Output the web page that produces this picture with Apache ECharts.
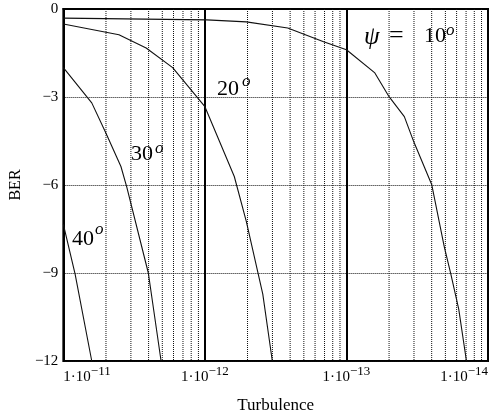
<!DOCTYPE html>
<html>
<head>
<meta charset="utf-8">
<script src="https://cdn.jsdelivr.net/npm/echarts@6/dist/echarts.min.js"></script>
<style>
html, body { margin: 0; padding: 0; background: #fff; }
#ber-chart { width: 494px; height: 419px; }
</style>
</head>
<body>
<div id="ber-chart"></div>
<script>
// turbulence values (x) and BER exponent (y)
var turb10 = [1e-11, 9.7e-13, 5.1e-13, 2.6e-13, 1.45e-13, 1e-13, 6.3e-14, 5.0e-14, 3.9e-14, 3.35e-14, 2.5e-14, 2.04e-14, 1.83e-14, 1.61e-14, 1.42e-14];
var ber10 = [-0.31, -0.37, -0.44, -0.65, -1.12, -1.39, -2.18, -2.99, -3.67, -4.52, -5.98, -8.09, -9.04, -10.23, -12];

var turb20 = [1e-11, 4.05e-12, 2.6e-12, 1.69e-12, 1e-12, 6.2e-13, 5.1e-13, 3.9e-13, 3.34e-13];
var ber20 = [-0.51, -0.88, -1.33, -2.0, -3.33, -5.71, -7.24, -9.72, -12];

var turb30 = [1e-11, 6.3e-12, 4.98e-12, 3.92e-12, 3.56e-12, 2.51e-12, 2.04e-12];
var ber30 = [-2.0, -3.2, -4.25, -5.37, -6.08, -9.0, -12];

var turb40 = [1e-11, 8.26e-12, 6.3e-12];
var ber40 = [-7.34, -9.04, -12];

var decades = [11, 12, 13];          // 1e-11 .. 1e-14 on the axis
var divisors = [2, 3, 4, 5, 6, 7, 8, 9]; // minor grid at 10^-k / n
var berTicks = [0, -3, -6, -9, -12];

var serif = '"Liberation Serif", "DejaVu Serif", serif';

function pairs(xs, ys) {
    return xs.map(function (x, i) { return [x, ys[i]]; });
}

var series = [];

// dotted minor grid, one short line series per position
decades.forEach(function (k) {
    divisors.forEach(function (n) {
        var v = Math.pow(10, -k) / n;
        series.push({
            type: 'line',
            data: [[v, berTicks[0]], [v, berTicks[berTicks.length - 1]]],
            symbol: 'none',
            silent: true,
            z: 1,
            lineStyle: { type: 'dotted', color: '#111', width: 1 }
        });
    });
});

function curve(name, xs, ys) {
    return {
        name: name,
        type: 'line',
        data: pairs(xs, ys),
        showSymbol: false,
        symbol: 'none',
        smooth: false,
        z: 3,
        lineStyle: { color: '#111', width: 1.1 },
        silent: true
    };
}

series.push(
    curve('10', turb10, ber10),
    curve('20', turb20, ber20),
    curve('30', turb30, ber30),
    curve('40', turb40, ber40)
);

var chart = echarts.init(document.getElementById('ber-chart'));

function degLabel(num, x, y, ox, oy) {
    return [
        { type: 'text', x: x, y: y, style: { text: num, font: '22px ' + serif, fill: '#000', verticalAlign: 'middle' } },
        { type: 'text', x: ox, y: oy, style: { text: 'o', font: 'italic 17px ' + serif, fill: '#000', verticalAlign: 'middle' } }
    ];
}

var option = {
    animation: false,
    backgroundColor: '#fff',
    grid: {
        left: 53,
        right: 6,
        top: 9,
        bottom: 57,
        show: true,
        borderColor: '#000',
        borderWidth: 2,
        backgroundColor: 'transparent'
    },
    xAxis: {
        type: 'log',
        logBase: 10,
        min: 1e-14,
        max: 1e-11,
        splitNumber: 3,
        inverse: true,
        name: 'Turbulence',
        nameLocation: 'middle',
        nameGap: 36,
        nameTextStyle: { fontFamily: serif, fontSize: 17, color: '#000' },
        axisLine: { show: true, lineStyle: { color: '#000', width: 2 } },
        axisTick: { show: false },
        splitLine: { show: true, lineStyle: { color: '#000', width: 2 } },
        axisLabel: {
            margin: 4,
            alignMinLabel: 'right',
            alignMaxLabel: 'left',
            formatter: function (v) {
                var e = Math.round(Math.log(v) / Math.LN10);
                return '{a|1·10}{b|−' + (-e) + '}';
            },
            rich: {
                a: { fontFamily: serif, fontSize: 15, color: '#000' },
                b: { fontFamily: serif, fontSize: 13, color: '#000', padding: [0, 0, 11, 0] }
            }
        }
    },
    yAxis: {
        type: 'value',
        min: -12,
        max: 0,
        interval: 3,
        name: 'BER',
        nameLocation: 'middle',
        nameGap: 31,
        nameTextStyle: { fontFamily: serif, fontSize: 16, color: '#000' },
        axisLine: { show: true, lineStyle: { color: '#000', width: 2 } },
        axisTick: { show: false },
        splitLine: { show: true, lineStyle: { type: 'dotted', color: '#111', width: 1 } },
        axisLabel: {
            margin: 5,
            fontFamily: serif,
            fontSize: 15,
            color: '#000',
            formatter: function (v) {
                return berTicks.indexOf(v) < 0 ? '' : (v === 0 ? '0' : '−' + Math.abs(v));
            }
        }
    },
    graphic: [
        { type: 'text', x: 364, y: 37, style: { text: 'ψ', font: 'italic 25px ' + serif, fill: '#000', verticalAlign: 'middle' } },
        { type: 'text', x: 389, y: 36, style: { text: '=', font: '26px ' + serif, fill: '#000', verticalAlign: 'middle' } }
    ].concat(
        degLabel('10', 424, 36, 446, 31),
        degLabel('20', 217, 89, 242, 82),
        degLabel('30', 131, 154, 155, 149),
        degLabel('40', 72, 239, 95, 230)
    ),
    series: series
};

chart.setOption(option);
window.addEventListener('resize', function () {
    chart.resize();
});
</script>
</body>
</html>
